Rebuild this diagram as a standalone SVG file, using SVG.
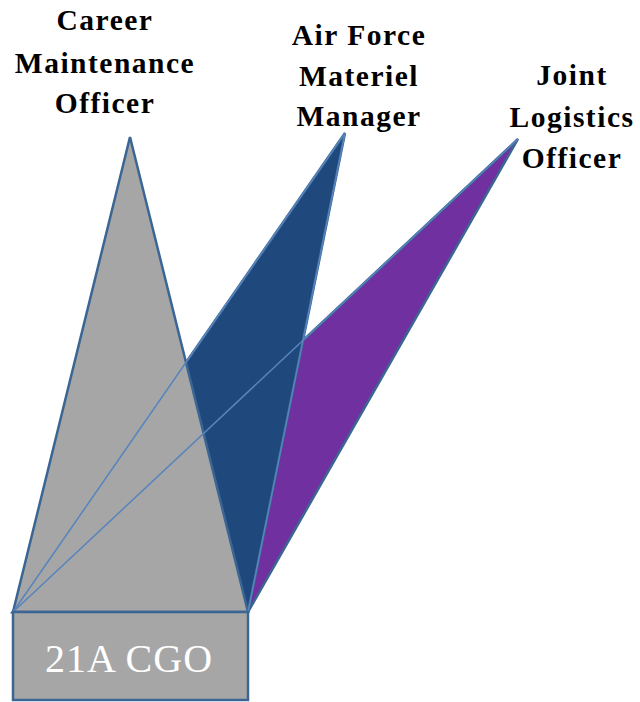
<svg xmlns="http://www.w3.org/2000/svg" width="640" height="702" viewBox="0 0 640 702">
<style>
.shape{stroke:#3b6593;stroke-width:2.5;stroke-linejoin:miter}
.thin{stroke:#5684bd;stroke-width:1.5;fill:none}
.lbl{font-family:"Liberation Serif","DejaVu Serif",serif;font-weight:bold;font-size:29.5px;letter-spacing:1.5px;fill:#000;text-anchor:middle}
.box{font-family:"Liberation Serif","DejaVu Serif",serif;font-size:40px;letter-spacing:1px;fill:#fff;text-anchor:middle}
</style>
<rect width="640" height="702" fill="#fff"/>
<g id="joint-logistics-officer">
<polygon class="shape" points="13,612 248,612 518,139" fill="#7030a0"/>
<text class="lbl" x="572"><tspan x="572" y="85">Joint</tspan><tspan x="572" y="127">Logistics</tspan><tspan x="572" y="168">Officer</tspan></text>
</g>
<g id="air-force-materiel-manager">
<polygon class="shape" points="13,612 248,612 345,133" fill="#1f497d"/>
<text class="lbl" x="359"><tspan x="359" y="45">Air Force</tspan><tspan x="359" y="86">Materiel</tspan><tspan x="359" y="126">Manager</tspan></text>
</g>
<g id="career-maintenance-officer">
<polygon class="shape" points="13,612 248,612 130,137" fill="#a6a6a6"/>
<text class="lbl" x="105"><tspan x="105" y="30">Career</tspan><tspan x="105" y="73">Maintenance</tspan><tspan x="105" y="113">Officer</tspan></text>
</g>
<g id="connectors">
<line class="thin" x1="13" y1="612" x2="345" y2="133"/>
<line class="thin" x1="13" y1="612" x2="518" y2="139"/>
<line class="thin" x1="248" y1="612" x2="345" y2="133"/>
</g>
<g id="cgo-21a">
<rect class="shape" x="13" y="612" width="235" height="88" fill="#a6a6a6"/>
<text class="box" x="129" y="672">21A CGO</text>
</g>
</svg>
